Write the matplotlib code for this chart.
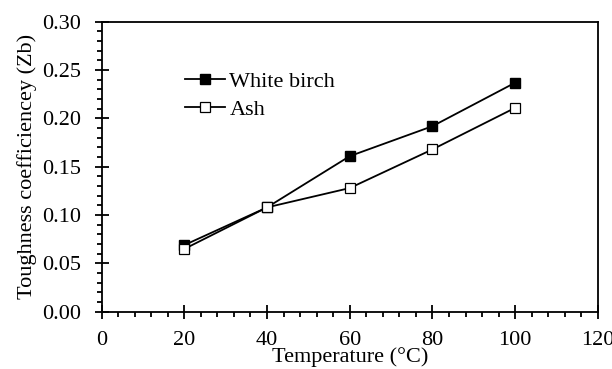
import matplotlib.pyplot as plt
from matplotlib.ticker import MultipleLocator

# toughness coefficient
temperature = [20, 40, 60, 80, 100]
white_birch = [0.069, 0.108, 0.161, 0.192, 0.237]
ash = [0.065, 0.108, 0.128, 0.168, 0.211]

plt.rcParams['font.family'] = ['Liberation Serif', 'DejaVu Serif']

fig = plt.figure(figsize=(6.12, 3.69), dpi=100)
ax = fig.add_axes([0.166, 0.155, 0.811, 0.786])

ax.plot(temperature, white_birch, color='black', linewidth=1.3, marker='s',
        markersize=6.8, markerfacecolor='black', markeredgecolor='black',
        label='White birch')
ax.plot(temperature, ash, color='black', linewidth=1.3, marker='s',
        markersize=6.8, markerfacecolor='white', markeredgecolor='black',
        markeredgewidth=0.9, label='Ash')

ax.set_xlim(0, 120)
ax.set_ylim(0, 0.30)
ax.xaxis.set_major_locator(MultipleLocator(20))
ax.xaxis.set_minor_locator(MultipleLocator(4))
ax.yaxis.set_major_locator(MultipleLocator(0.05))
ax.yaxis.set_minor_locator(MultipleLocator(0.01))
ax.yaxis.set_major_formatter(plt.FormatStrFormatter('%.2f'))

ax.tick_params(axis='both', which='major', direction='inout', length=9.5, width=1.3)
ax.tick_params(axis='both', which='minor', direction='out', length=3.6, width=1.3)
ax.tick_params(axis='y', labelsize=16, pad=10)
ax.tick_params(axis='x', labelsize=16, pad=9)
for s in ax.spines.values():
    s.set_linewidth(1.3)

ax.set_xlabel('Temperature (\u00b0C)', fontsize=16, labelpad=-2)
ax.set_ylabel('Toughness coefficiencey (Zb)', fontsize=16, labelpad=4)

ax.legend(loc='upper left', bbox_to_anchor=(0.168, 0.828), frameon=False,
          fontsize=16, handlelength=1.8, handletextpad=0.2, labelspacing=0.33,
          borderpad=0, borderaxespad=0)

fig.savefig('out.png', dpi=100)
